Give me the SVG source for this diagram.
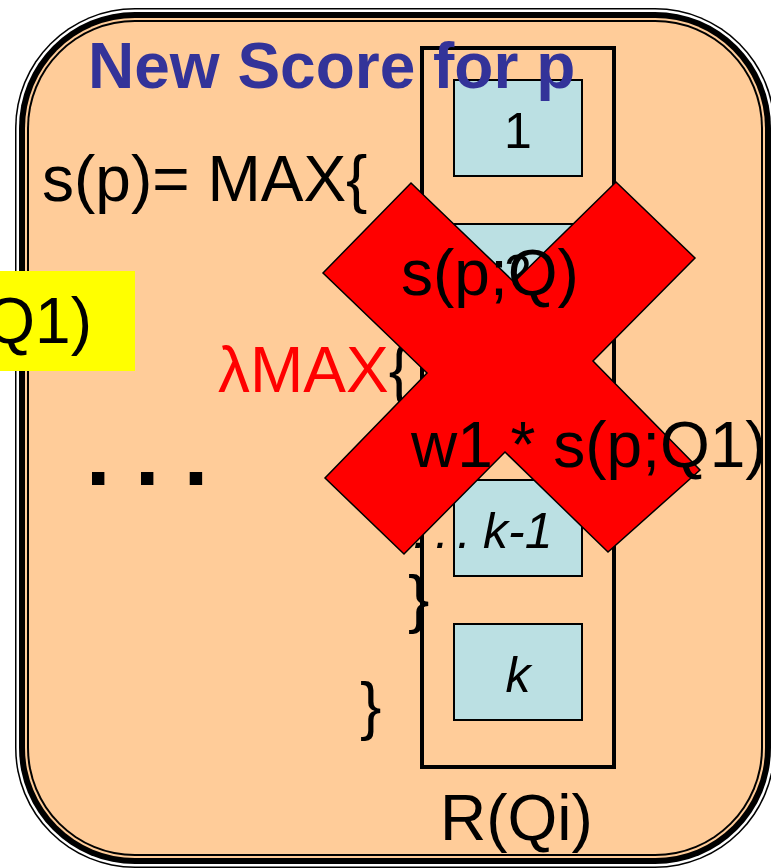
<svg xmlns="http://www.w3.org/2000/svg" width="771" height="868" viewBox="0 0 771 868">
<style>
.t{font-family:"Liberation Sans",Arial,sans-serif;font-size:64px;fill:#000}
.title{font-weight:bold;fill:#333399}
.box{fill:#BBE0E3;stroke:#000;stroke-width:2}
.lbl{font-family:"Liberation Sans",Arial,sans-serif;font-size:50px;fill:#000}
</style>
<rect width="771" height="868" fill="#fff"/>
<g id="frame">
<rect x="15" y="8" width="760" height="860" rx="120" fill="#000"/>
<rect x="16.5" y="9.5" width="757" height="857" rx="118.5" fill="#fff"/>
<rect x="19" y="12" width="752" height="852" rx="116" fill="#000"/>
<rect x="25" y="18" width="740" height="840" rx="110" fill="#FFCC99"/>
<rect x="27" y="20" width="736" height="836" rx="108" fill="#000"/>
<rect x="29" y="22" width="732" height="832" rx="106" fill="#FFCC99"/>
</g>
<g id="column">
<rect x="422" y="48" width="192" height="719" fill="none" stroke="#000" stroke-width="4"/>
</g>
<g id="box1"><rect class="box" x="454" y="80" width="128" height="96"/><text class="lbl" x="518" y="148" text-anchor="middle">1</text></g>
<g id="box2"><rect class="box" x="454" y="224" width="128" height="96"/><text class="lbl" x="518" y="290" text-anchor="middle">2</text></g>
<g id="boxk1"><rect class="box" x="454" y="480" width="128" height="96"/><text class="lbl" y="548" font-style="italic"><tspan x="413">.</tspan><tspan x="435">.</tspan><tspan x="457">.</tspan><tspan x="483">k-1</tspan></text></g>
<g id="boxk"><rect class="box" x="454" y="624" width="128" height="96"/><text class="lbl" x="518" y="692" text-anchor="middle" font-style="italic">k</text></g>
<g id="formula">
<text class="t" x="42" y="201">s(p)= MAX{</text>
<text class="t" x="218" y="392"><tspan fill="#FF0000">λMAX</tspan>{</text>
<text class="t" x="86" y="485" style="font-weight:bold;font-size:88px">. . .</text>
<text class="t" x="408" y="621">}</text>
<text class="t" x="360" y="728">}</text>
</g>
<g id="cross">
<polygon points="411,183 514,282 616,182 695,258 593,361 700,470 608,552 505,452 404,554 325,478 427,373 323,273" fill="#FF0000" stroke="#000" stroke-width="1.5"/>
</g>
<g id="overlay">
<text class="t" x="401" y="295">s(p;Q)</text>
<text class="t" x="411" y="467">w1 * s(p;Q1)</text>
</g>
<g id="title"><text class="t title" x="88" y="88">New Score for p</text></g>
<g id="yellow"><rect x="0" y="271" width="135" height="100" fill="#FFFF00"/><text class="t" x="92" y="343" text-anchor="end">Q1)</text></g>
<g id="rqi"><text class="t" x="440" y="840">R(Qi)</text></g>
</svg>
